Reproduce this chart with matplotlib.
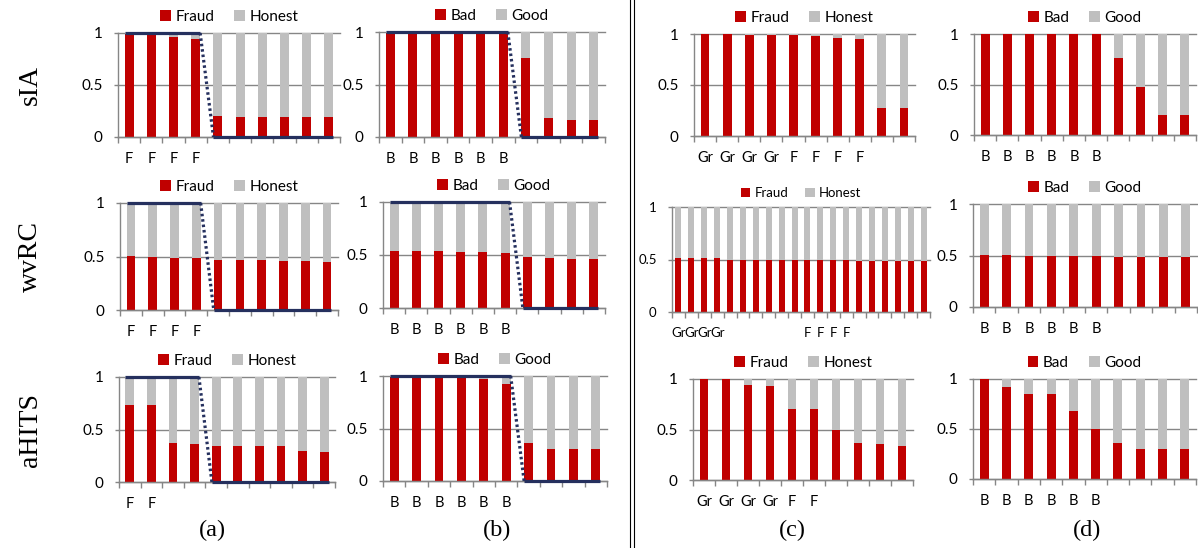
import numpy as np
import matplotlib.pyplot as plt
from matplotlib.lines import Line2D

# ============================================================
# Data (share of the "bad" class per ranked node)
# ============================================================
RED = "#C00000"
GREY = "#BFBFBF"
NAVY = "#25305E"
AXIS_GREY = "#868686"

ROW_NAMES = ["sIA", "wvRC", "aHITS"]
COL_NAMES = ["(a)", "(b)", "(c)", "(d)"]

LEGEND_FRAUD = ["Fraud", "Honest"]
LEGEND_BAD = ["Bad", "Good"]

# column (a)
sia_a = [0.99, 0.98, 0.96, 0.94, 0.20, 0.195, 0.195, 0.19, 0.19, 0.188]
wvrc_a = [0.503, 0.497, 0.485, 0.484, 0.468, 0.468, 0.465, 0.457, 0.456, 0.45]
ahits_a = [0.73, 0.73, 0.37, 0.365, 0.34, 0.34, 0.34, 0.34, 0.30, 0.285]
labels_a = ["F", "F", "F", "F", "", "", "", "", "", ""]
labels_a_hits = ["F", "F", "", "", "", "", "", "", "", ""]
truth_a = [1, 1, 1, 1, 0, 0, 0, 0, 0, 0]

# column (b)
sia_b = [0.995, 0.995, 0.995, 0.995, 0.995, 0.99, 0.756, 0.18, 0.165, 0.165]
wvrc_b = [0.538, 0.538, 0.538, 0.532, 0.525, 0.522, 0.48, 0.475, 0.466, 0.466]
ahits_b = [0.99, 0.99, 0.99, 0.99, 0.97, 0.927, 0.362, 0.305, 0.305, 0.305]
labels_b = ["B", "B", "B", "B", "B", "B", "", "", "", ""]
truth_b = [1, 1, 1, 1, 1, 1, 0, 0, 0, 0]

# column (c)
sia_c = [1.0, 1.0, 0.995, 0.995, 0.99, 0.98, 0.96, 0.955, 0.27, 0.27]
wvrc_c = [0.517, 0.517, 0.513, 0.513, 0.497, 0.497, 0.495, 0.495, 0.495, 0.495,
          0.495, 0.493, 0.492, 0.492, 0.49, 0.488, 0.488, 0.487, 0.485, 0.485]
ahits_c = [1.0, 1.0, 0.937, 0.93, 0.70, 0.70, 0.50, 0.37, 0.36, 0.334]
labels_c_sia = ["Gr", "Gr", "Gr", "Gr", "F", "F", "F", "F", "", ""]
labels_c_wvrc = ["Gr", "Gr", "Gr", "Gr", "", "", "", "", "", "",
                 "F", "F", "F", "F", "", "", "", "", "", ""]
labels_c_hits = ["Gr", "Gr", "Gr", "Gr", "F", "F", "", "", "", ""]

# column (d)
sia_d = [1.0, 1.0, 1.0, 1.0, 1.0, 1.0, 0.766, 0.48, 0.20, 0.20]
wvrc_d = [0.505, 0.505, 0.5, 0.5, 0.5, 0.5, 0.49, 0.49, 0.485, 0.485]
ahits_d = [1.0, 0.923, 0.85, 0.847, 0.677, 0.5, 0.36, 0.303, 0.303, 0.303]
labels_d = ["B", "B", "B", "B", "B", "B", "", "", "", ""]

W, H = 1198, 548

# ============================================================
# Panel drawing
# ============================================================
def draw_panel(fig, rect, values, labels, legend_names, truth=None,
               width=0.4, fs=11, xfs=10.5):
    left, top, right, bottom = rect
    ax = fig.add_axes([left / W, 1 - bottom / H, (right - left) / W, (bottom - top) / H])

    vals = np.array(values)
    x = np.arange(len(vals))
    ax.bar(x, vals, width, color=RED, label=legend_names[0])
    ax.bar(x, 1 - vals, width, bottom=vals, color=GREY, label=legend_names[1])

    ax.set_xlim(-0.5, len(vals) - 0.5)
    ax.set_ylim(0, 1)
    ax.set_yticks([0, 0.5, 1])
    ax.set_yticklabels(["0", "0.5", "1"])
    ax.yaxis.grid(True, color=AXIS_GREY, lw=1)
    for gl in ax.get_ygridlines():
        gl.set_clip_on(False)
    ax.set_axisbelow(True)

    for s in ["top", "right"]:
        ax.spines[s].set_visible(False)
    for s in ["left", "bottom"]:
        ax.spines[s].set_color(AXIS_GREY)
        ax.spines[s].set_linewidth(1)

    ax.set_xticks(x)
    ax.set_xticklabels(labels)
    ax.set_xticks(np.arange(-0.5, len(vals)), minor=True)
    ax.tick_params(axis="x", which="major", length=0, pad=11, labelsize=xfs)
    ax.tick_params(axis="x", which="minor", length=4, color=AXIS_GREY, width=1)
    ax.tick_params(axis="y", length=3, color=AXIS_GREY, width=1, pad=8, labelsize=fs)

    ax.legend(ncol=2, loc="lower center", bbox_to_anchor=(0.5, 1.0),
              frameon=False, fontsize=fs, handlelength=0.7, handleheight=0.7,
              handletextpad=0.3, columnspacing=1.3, borderaxespad=0.2)

    # ground-truth step line
    if truth is not None:
        t = np.array(truth)
        k = int(t.sum())
        hw = width / 2
        kw = dict(color=NAVY, lw=2.3, clip_on=False, zorder=5)
        ax.plot([x[0] - hw, x[k - 1] + hw], [1, 1], solid_capstyle="butt", **kw)
        ax.plot([x[k - 1] + hw, x[k] - hw], [1, 0], ls=(0, (0.8, 0.9)), **kw)
        ax.plot([x[k] - hw, x[-1] + hw], [0, 0], solid_capstyle="butt", **kw)
    return ax


def main():
    plt.rcParams["font.family"] = ["Lato", "DejaVu Sans"]
    fig = plt.figure(figsize=(W / 100, H / 100), dpi=100)

    # (left, top, right, bottom) in pixels
    draw_panel(fig, (118, 33, 340, 137), sia_a, labels_a, LEGEND_FRAUD, truth_a)
    draw_panel(fig, (120, 203, 338, 310), wvrc_a, labels_a, LEGEND_FRAUD, truth_a)
    draw_panel(fig, (119, 377, 335, 482), ahits_a, labels_a_hits, LEGEND_FRAUD, truth_a)

    draw_panel(fig, (379, 32, 605, 137), sia_b, labels_b, LEGEND_BAD, truth_b)
    draw_panel(fig, (383, 202, 605, 308), wvrc_b, labels_b, LEGEND_BAD, truth_b)
    draw_panel(fig, (383, 376, 607, 481), ahits_b, labels_b, LEGEND_BAD, truth_b)

    draw_panel(fig, (694, 34, 915, 136), sia_c, labels_c_sia, LEGEND_FRAUD)
    draw_panel(fig, (672, 207, 930, 312), wvrc_c, labels_c_wvrc, LEGEND_FRAUD,
               width=0.47, fs=9.5, xfs=9.5)
    draw_panel(fig, (693, 379, 913, 480), ahits_c, labels_c_hits, LEGEND_FRAUD)

    draw_panel(fig, (974, 34, 1196, 135), sia_d, labels_d, LEGEND_BAD)
    draw_panel(fig, (973, 204, 1197, 307), wvrc_d, labels_d, LEGEND_BAD)
    draw_panel(fig, (973, 379, 1196, 479), ahits_d, labels_d, LEGEND_BAD)

    # row names
    for name, yc in zip(ROW_NAMES, [85, 256, 430]):
        fig.text(30 / W, 1 - yc / H, name, rotation=90, ha="center", va="center",
                 family="Liberation Serif", fontsize=20)

    # column captions
    for name, xc in zip(COL_NAMES, [212, 497, 792, 1087]):
        fig.text(xc / W, 1 - 530 / H, name, ha="center", va="center",
                 family="Liberation Serif", fontsize=17.5)

    # double divider
    for xd in [630, 634]:
        fig.add_artist(Line2D([xd / W, xd / W], [0, 1], transform=fig.transFigure,
                              color="black", lw=0.8))

    fig.savefig("out.png", dpi=100)


if __name__ == "__main__":
    main()
